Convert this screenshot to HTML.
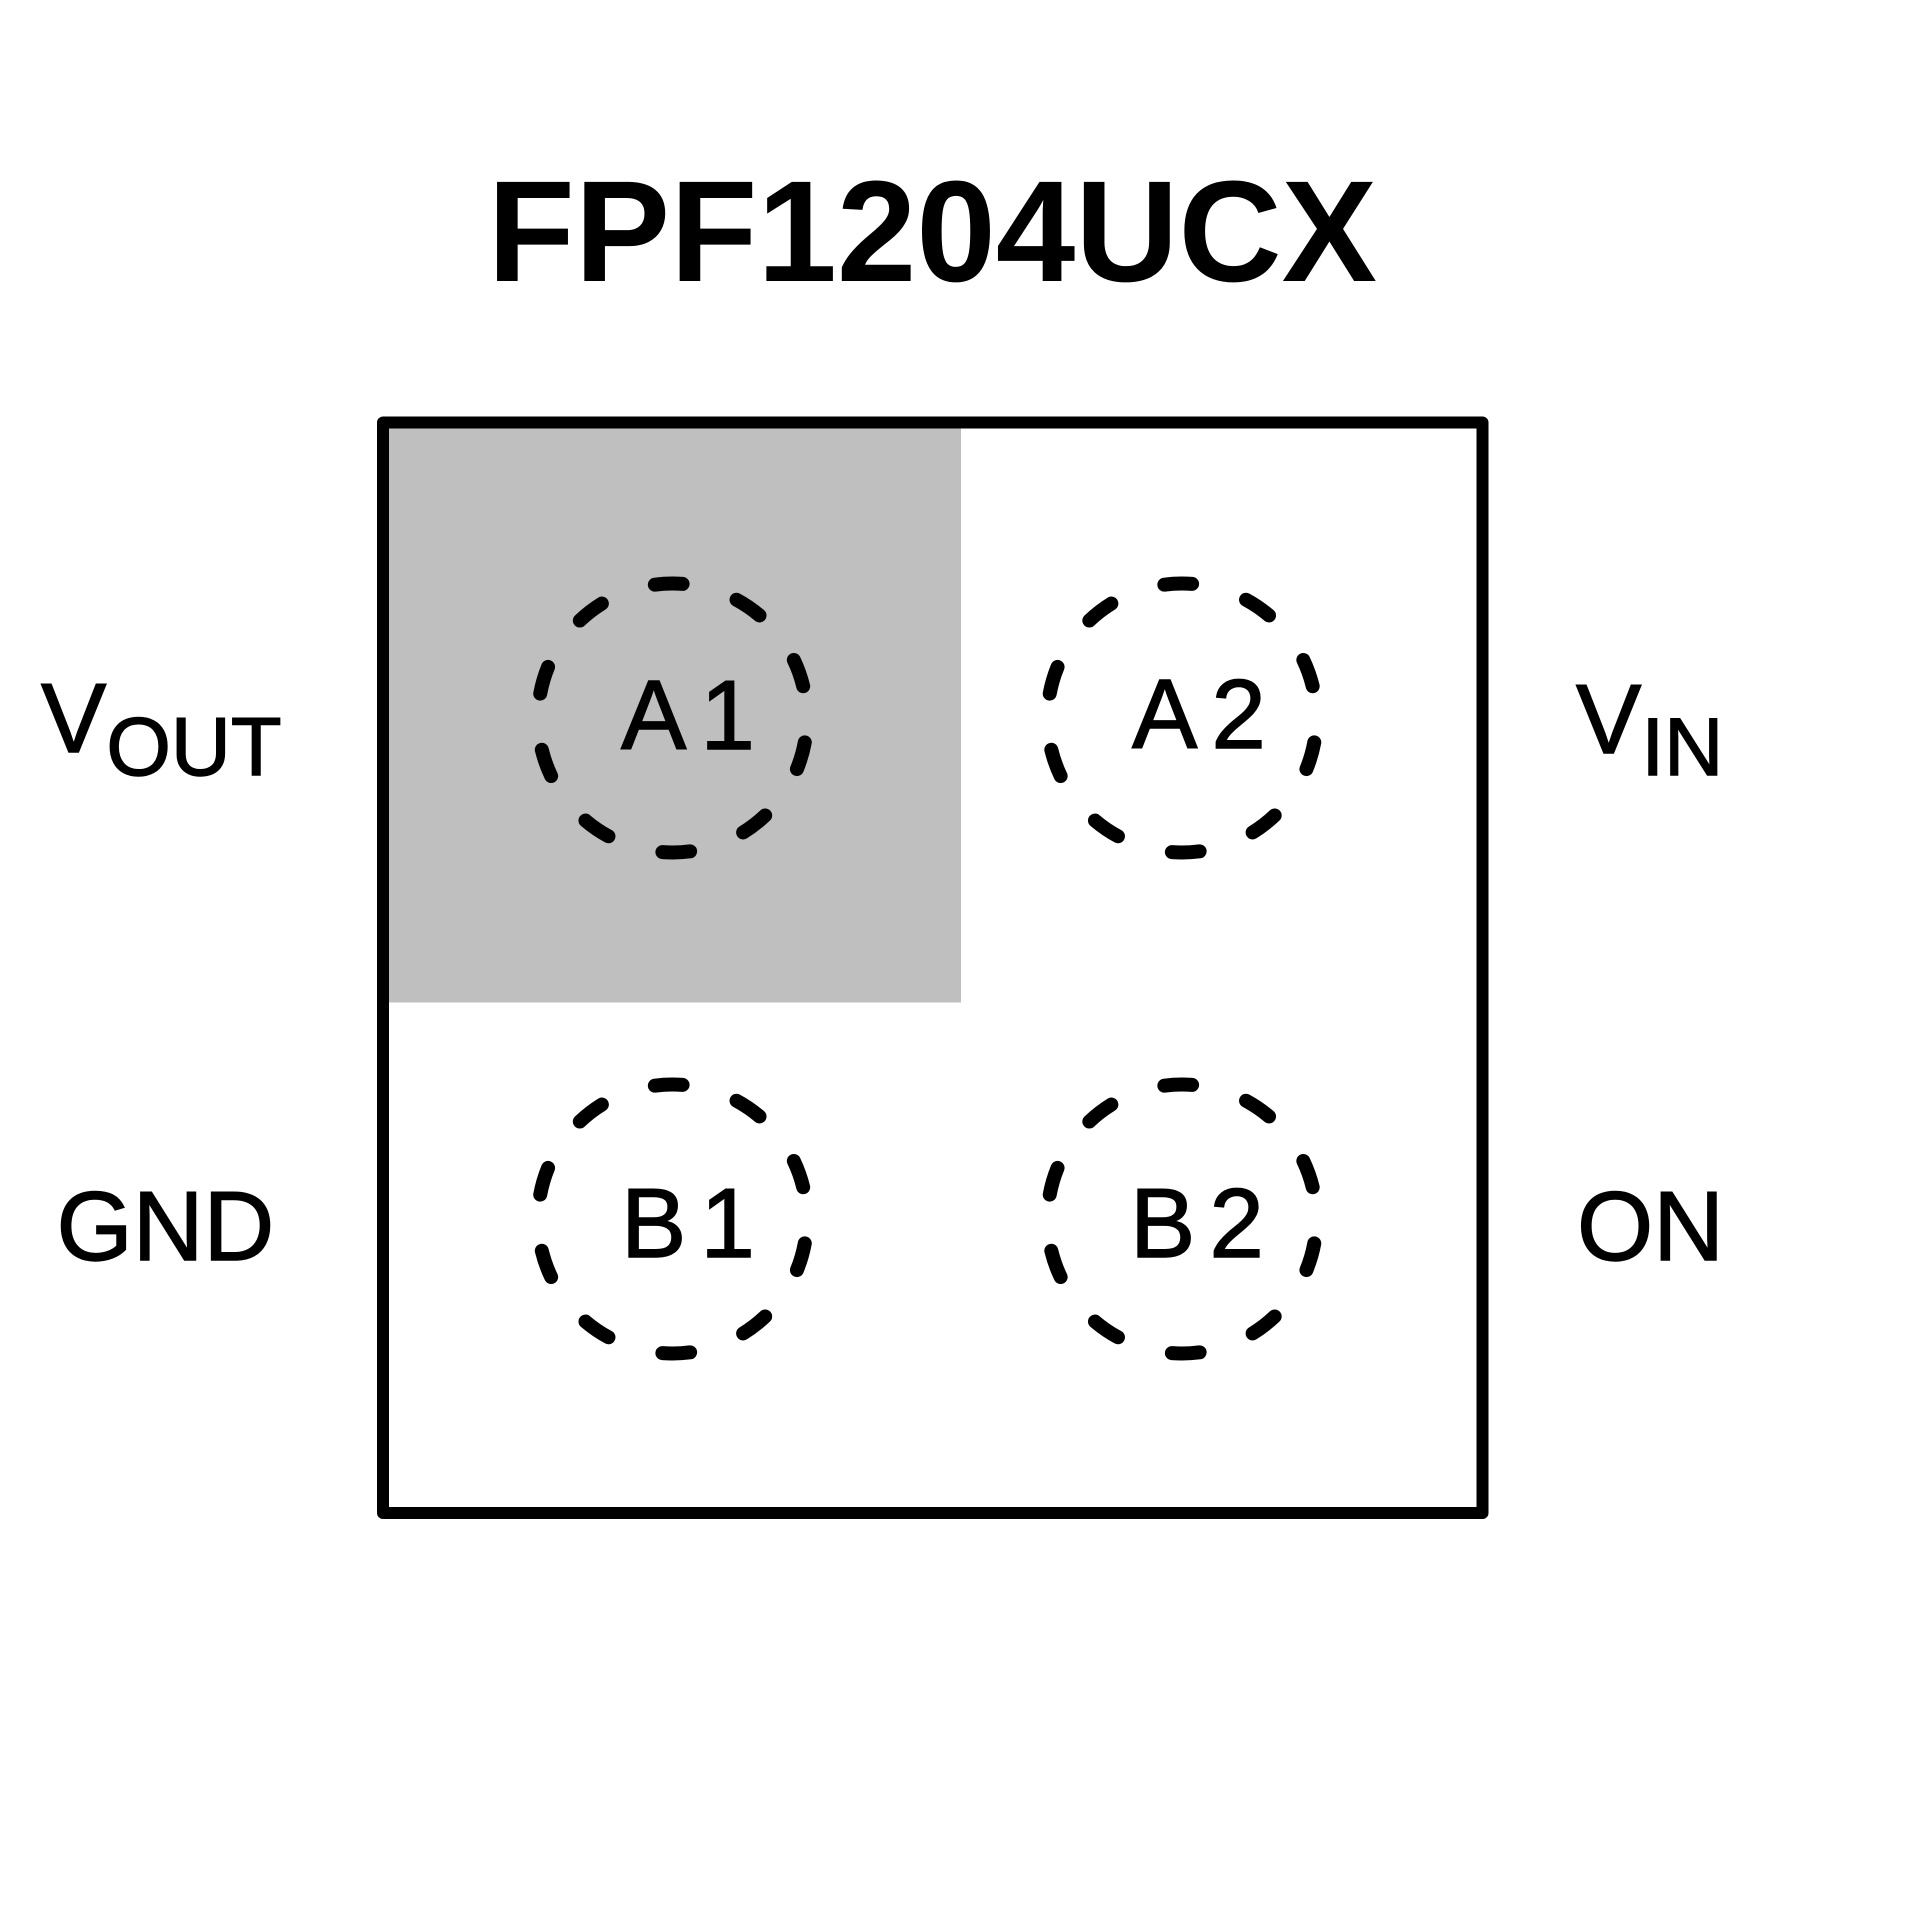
<!DOCTYPE html>
<html>
<head>
<meta charset="utf-8">
<style>
  html, body { margin: 0; padding: 0; background: #ffffff; }
  body { width: 1920px; height: 1920px; overflow: hidden; }
  svg { display: block; }
  text { font-family: "Liberation Sans", Arial, sans-serif; fill: #000; }
  .lbl { stroke: #000; stroke-width: 1.4; }
</style>
</head>
<body>
<svg xmlns="http://www.w3.org/2000/svg" width="1920" height="1920" viewBox="0 0 1920 1920">
  <rect x="0" y="0" width="1920" height="1920" fill="#ffffff"/>

  <!-- Title -->
  <text x="487.5" y="281" font-size="144" font-weight="bold" textLength="889.5" lengthAdjust="spacingAndGlyphs">FPF1204UCX</text>

  <!-- Gray pin-1 quadrant -->
  <rect x="389" y="428.5" width="572" height="574" fill="#bfbfbf"/>

  <!-- Package outline -->
  <rect x="383" y="422.5" width="1099.5" height="1090.5" fill="none" stroke="#000" stroke-width="12" stroke-linejoin="round"/>

  <!-- Dashed ball outlines -->
  <g fill="none" stroke="#000" stroke-width="14" stroke-linecap="round">
    <circle cx="672.5" cy="718" r="134.5" pathLength="100" stroke-dasharray="3.3 6.7" stroke-dashoffset="-2.9"/>
    <circle cx="1182" cy="718" r="134.5" pathLength="100" stroke-dasharray="3.3 6.7" stroke-dashoffset="-2.9"/>
    <circle cx="672.5" cy="1219" r="134.5" pathLength="100" stroke-dasharray="3.3 6.7" stroke-dashoffset="-2.9"/>
    <circle cx="1182" cy="1219" r="134.5" pathLength="100" stroke-dasharray="3.3 6.7" stroke-dashoffset="-2.9"/>
  </g>

  <!-- Ball labels -->
  <text class="lbl" x="621" y="749" font-size="98" letter-spacing="14">A1</text>
  <text class="lbl" x="1132" y="748" font-size="98" letter-spacing="14">A2</text>
  <text class="lbl" x="621" y="1257" font-size="98" letter-spacing="14">B1</text>
  <text class="lbl" x="1130" y="1257" font-size="98" letter-spacing="14">B2</text>

  <!-- Pin names -->
  <text class="lbl" x="41" y="752" font-size="98">V<tspan font-size="83" dy="23">OUT</tspan></text>
  <text class="lbl" x="1576" y="753" font-size="98">V<tspan font-size="82" dy="22">IN</tspan></text>
  <text class="lbl" x="56.5" y="1260" font-size="98">GND</text>
  <text class="lbl" x="1577" y="1260" font-size="98">ON</text>
</svg>
</body>
</html>
